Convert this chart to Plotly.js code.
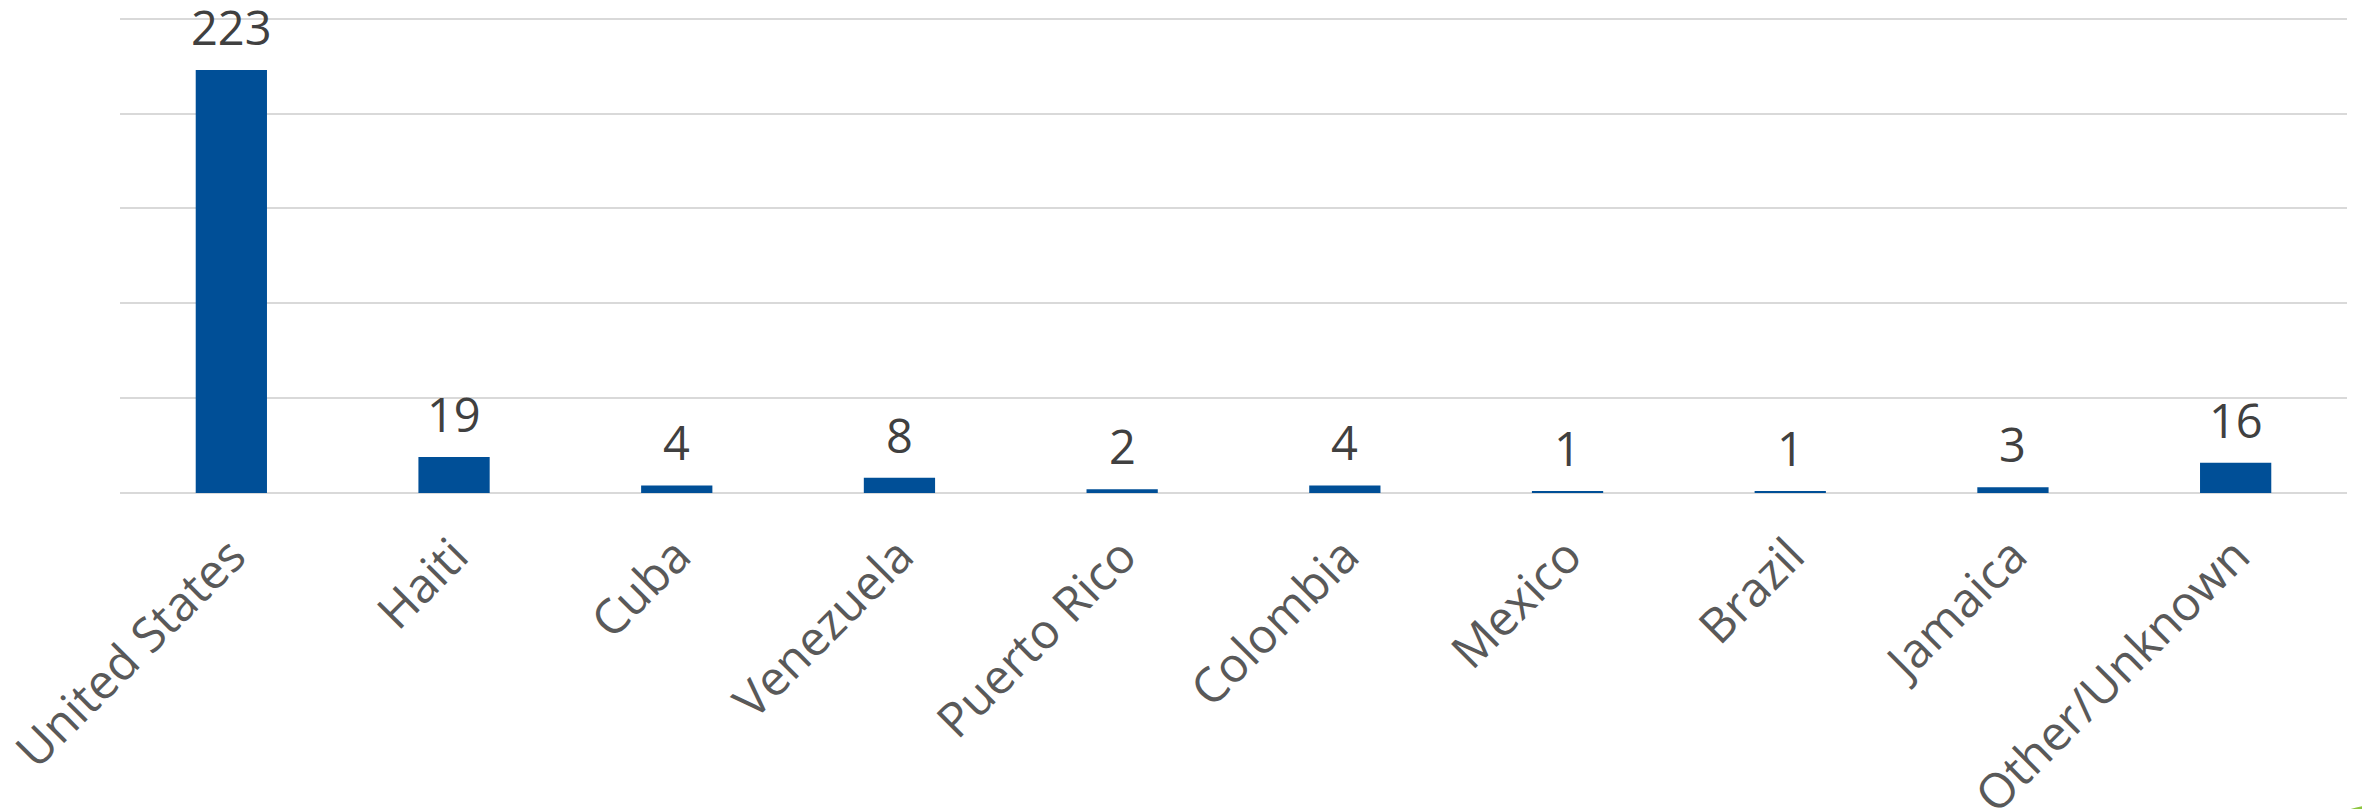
<!DOCTYPE html>
<html>
<head>
<meta charset="utf-8">
<script src="https://cdn.plot.ly/plotly-3.0.1.min.js"></script>
<style>html,body{margin:0;padding:0;background:#fff;}#chart{width:2362px;height:809px;}</style>
</head>
<body>
<div id="chart"></div>
<script>
var countries = ["United States", "Haiti", "Cuba", "Venezuela", "Puerto Rico", "Colombia", "Mexico", "Brazil", "Jamaica", "Other/Unknown"];
var counts = [223, 19, 4, 8, 2, 4, 1, 1, 3, 16];

var FONT = "Open Sans, Liberation Sans, sans-serif";

var trace = {
  type: "bar",
  x: countries,
  y: counts,
  marker: {color: "#004F97", line: {width: 0}},
  cliponaxis: false,
  hoverinfo: "x+y"
};

var annotations = countries.map(function (c, i) {
  return {
    x: c, y: counts[i], xref: "x", yref: "y",
    text: String(counts[i]),
    showarrow: false,
    yanchor: "bottom",
    yshift: 9,
    font: {family: FONT, size: 47, color: "#404040"}
  };
});

var layout = {
  width: 2362, height: 809,
  margin: {l: 120, r: 15, t: 15, b: 316, pad: 0},
  paper_bgcolor: "#ffffff",
  plot_bgcolor: "#ffffff",
  bargap: 0.68,
  showlegend: false,
  xaxis: {
    type: "category",
    tickangle: -45,
    tickfont: {family: FONT, size: 48, color: "#595959"},
    ticks: "",
    showgrid: false,
    showline: false,
    zeroline: false,
    ticklabelstandoff: 24
  },
  yaxis: {
    range: [0, 252],
    tickvals: [0, 50, 100, 150, 200, 250],
    showticklabels: false,
    ticks: "",
    showgrid: true,
    gridcolor: "#D9D9D9",
    gridwidth: 2,
    zeroline: true,
    zerolinecolor: "#D9D9D9",
    zerolinewidth: 2,
    showline: false,
    fixedrange: true
  },
  annotations: annotations,
  shapes: [{
    type: "circle",
    xref: "paper", yref: "paper",
    x0: 0.9627, x1: 1.0705, y0: -1.1622, y1: -0.6555,
    line: {color: "#8DC63F", width: 4},
    fillcolor: "rgba(0,0,0,0)",
    layer: "above"
  }]
};

Plotly.newPlot("chart", [trace], layout, {displayModeBar: false, staticPlot: true});
</script>
</body>
</html>
